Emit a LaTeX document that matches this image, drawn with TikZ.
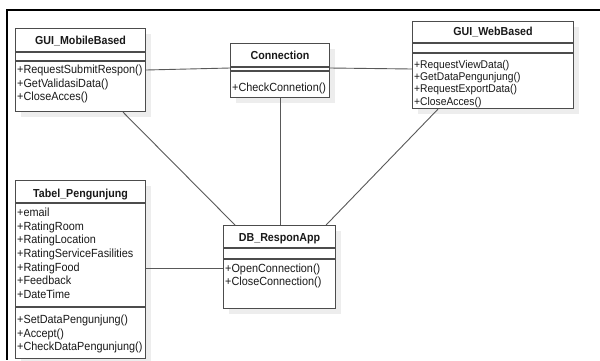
\documentclass[tikz,border=0pt]{standalone}
\usepackage{fontspec}
\setmainfont[FakeStretch=0.92]{Liberation Sans}
\usetikzlibrary{shadows}

\tikzset{
  umlbox/.style={draw=black!70, line width=1.1pt, fill=white, anchor=north west, inner sep=0pt,
    drop shadow={shadow xshift=5pt, shadow yshift=-5pt, fill=black!7, opacity=1}},
  umltitle/.style={anchor=base, inner sep=0pt, font=\fontsize{11.6}{13}\selectfont\bfseries, text=black!90},
  umlrow/.style={anchor=base west, inner sep=0pt, font=\fontsize{11.8}{13}\selectfont, text=black!90},
  umlsep/.style={draw=black!70, line width=1.1pt},
  link/.style={draw=black!65, line width=0.9pt}
}

% separator line #2 pt below the top of class #1
\newcommand{\umlline}[2]{\draw[umlsep] ([yshift=-#2pt]#1.north west) -- ([yshift=-#2pt]#1.north east);}
% rows of a class: [style] class, prefix, first baseline, step, list
\newcommand{\umlrows}[6][]{%
  \foreach \row [count=\k] in {#6}
    \node[umlrow,#1] (#3\k) at ([shift={(2,{#4+#5*(\k-1)})}]#2.north west) {\row};
}

\begin{document}
\begin{tikzpicture}[x=1pt,y=-1pt]
\useasboundingbox[fill=white] (0,0) rectangle (600,360);
\draw[line width=2.4pt] (600,10) -- (7,10) -- (7,360);

% classes
\node[umlbox, minimum width=130, minimum height=83] (mob) at (15,28) {};
\node[umltitle] (mobt) at ([yshift=-16.3pt]mob.north) {GUI\_MobileBased};
\umlline{mob}{24} \umlline{mob}{33}
\umlrows{mob}{mobm}{45.5}{13.6}{+RequestSubmitRespon(),+GetValidasiData(),+CloseAcces()}

\node[umlbox, minimum width=99, minimum height=54] (con) at (230,43) {};
\node[umltitle] (cont) at ([yshift=-16.3pt]con.north) {Connection};
\umlline{con}{24} \umlline{con}{28}
\umlrows{con}{conm}{48.3}{13.6}{+CheckConnetion()}

\node[umlbox, minimum width=161, minimum height=87] (web) at (412,21) {};
\node[umltitle] (webt) at ([yshift=-14pt]web.north) {GUI\_WebBased};
\umlline{web}{22} \umlline{web}{32}
\umlrows[font=\fontsize{11.2}{12}\selectfont]{web}{webm}{47.3}{12.3}{+RequestViewData(),+GetDataPengunjung(),+RequestExportData(),+CloseAcces()}

\node[umlbox, minimum width=130, minimum height=178] (tab) at (15,180) {};
\node[umltitle] (tabt) at ([yshift=-17.3pt]tab.north) {Tabel\_Pengunjung};
\umlline{tab}{23} \umlline{tab}{127}
\umlrows{tab}{taba}{36.7}{13.6}{+email,+RatingRoom,+RatingLocation,+RatingServiceFasilities,+RatingFood,+Feedback,+DateTime}
\umlrows{tab}{tabm}{143.3}{13.7}{+SetDataPengunjung(),+Accept(),+CheckDataPengunjung()}

\node[umlbox, minimum width=112, minimum height=83] (db) at (223,225) {};
\node[umltitle] (dbt) at ([yshift=-16.7pt]db.north) {DB\_ResponApp};
\umlline{db}{23} \umlline{db}{34}
\umlrows{db}{dbm}{47.7}{12.8}{+OpenConnection(),+CloseConnection()}

% associations
\coordinate (tabdb) at ([yshift=-43pt]db.north west);
\draw[link] ([yshift=-42pt]mob.north east) -- ([yshift=-25pt]con.north west);
\draw[link] ([yshift=-25pt]con.north east) -- ([yshift=-48pt]web.north west);
\draw[link] (con.south) -- (con.south |- db.north);
\draw[link] ([xshift=108pt]mob.south west) -- ([xshift=12pt]db.north west);
\draw[link] ([xshift=26pt]web.south west) -- ([xshift=-10pt]db.north east);
\draw[link] (tabdb -| tab.east) -- (tabdb);
\end{tikzpicture}
\end{document}
